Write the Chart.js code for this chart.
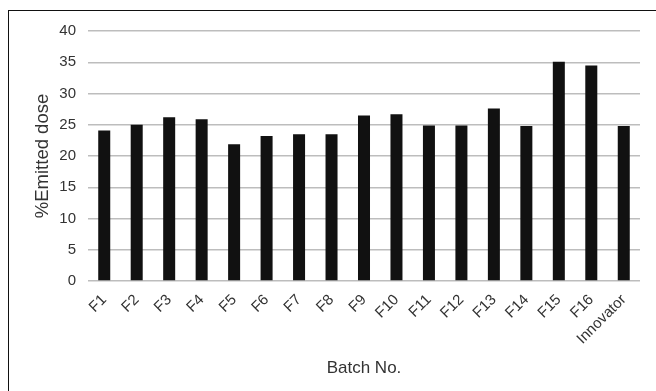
<!DOCTYPE html>
<html lang="en">
<head>
    <meta charset="UTF-8">
    <title>%Emitted dose by batch</title>
    <script src="https://cdn.jsdelivr.net/npm/chart.js"></script>
    <style>
        body {
            margin: 0;
            padding: 0;
            background: #fff;
            overflow: hidden;
        }
        .frame {
            position: absolute;
            left: 8px;
            top: 10px;
            width: 700px;
            height: 450px;
            border: 1px solid #111;
        }
        .chart-box {
            position: absolute;
            left: 0;
            top: 0;
            width: 656px;
            height: 391px;
        }
    </style>
</head>
<body>
    <div class="frame"></div>
    <div class="chart-box">
        <canvas id="doseChart"></canvas>
    </div>

    <script>
        // Data
        const batches = ['F1', 'F2', 'F3', 'F4', 'F5', 'F6', 'F7', 'F8', 'F9', 'F10',
                         'F11', 'F12', 'F13', 'F14', 'F15', 'F16', 'Innovator'];
        const emittedDose = [24.1, 25.0, 26.2, 25.9, 21.9, 23.2, 23.5, 23.5, 26.5, 26.7,
                             24.9, 24.9, 27.6, 24.8, 35.1, 34.5, 24.8];
        const yTicks = [0, 5, 10, 15, 20, 25, 30, 35, 40];

        const textColor = '#333';

        const ctx = document.getElementById('doseChart').getContext('2d');
        const doseChart = new Chart(ctx, {
            type: 'bar',
            data: {
                labels: batches,
                datasets: [{
                    label: '%Emitted dose',
                    data: emittedDose,
                    backgroundColor: '#111',
                    borderWidth: 0,
                    categoryPercentage: 1.0,
                    barPercentage: 0.37
                }]
            },
            options: {
                responsive: true,
                maintainAspectRatio: false,
                animation: false,
                layout: {
                    padding: { left: 32, right: 16, top: 31, bottom: 10 }
                },
                plugins: {
                    legend: { display: false },
                    tooltip: { enabled: false }
                },
                scales: {
                    x: {
                        grid: { display: false },
                        border: { display: false },
                        ticks: {
                            color: textColor,
                            font: { family: 'Liberation Sans', size: 15 },
                            minRotation: 45,
                            maxRotation: 45,
                            autoSkip: false,
                            padding: 2
                        },
                        title: {
                            display: true,
                            text: 'Batch No.',
                            color: textColor,
                            font: { family: 'Liberation Sans', size: 17 },
                            padding: { top: 0, bottom: 2 }
                        },
                        afterFit: (scale) => { scale.height = 100; }
                    },
                    y: {
                        min: 0,
                        max: 40,
                        afterBuildTicks: (scale) => {
                            scale.ticks = yTicks.map(v => ({ value: v }));
                        },
                        grid: {
                            color: '#bdbdbd',
                            lineWidth: 1.5,
                            drawTicks: false
                        },
                        border: { display: false },
                        ticks: {
                            color: textColor,
                            font: { family: 'Liberation Sans', size: 15 },
                            padding: 12
                        },
                        title: {
                            display: true,
                            text: '%Emitted dose',
                            color: textColor,
                            font: { family: 'Liberation Sans', size: 18.5 },
                            padding: 0
                        },
                        afterFit: (scale) => { scale.width = 56; }
                    }
                }
            }
        });
    </script>
</body>
</html>
